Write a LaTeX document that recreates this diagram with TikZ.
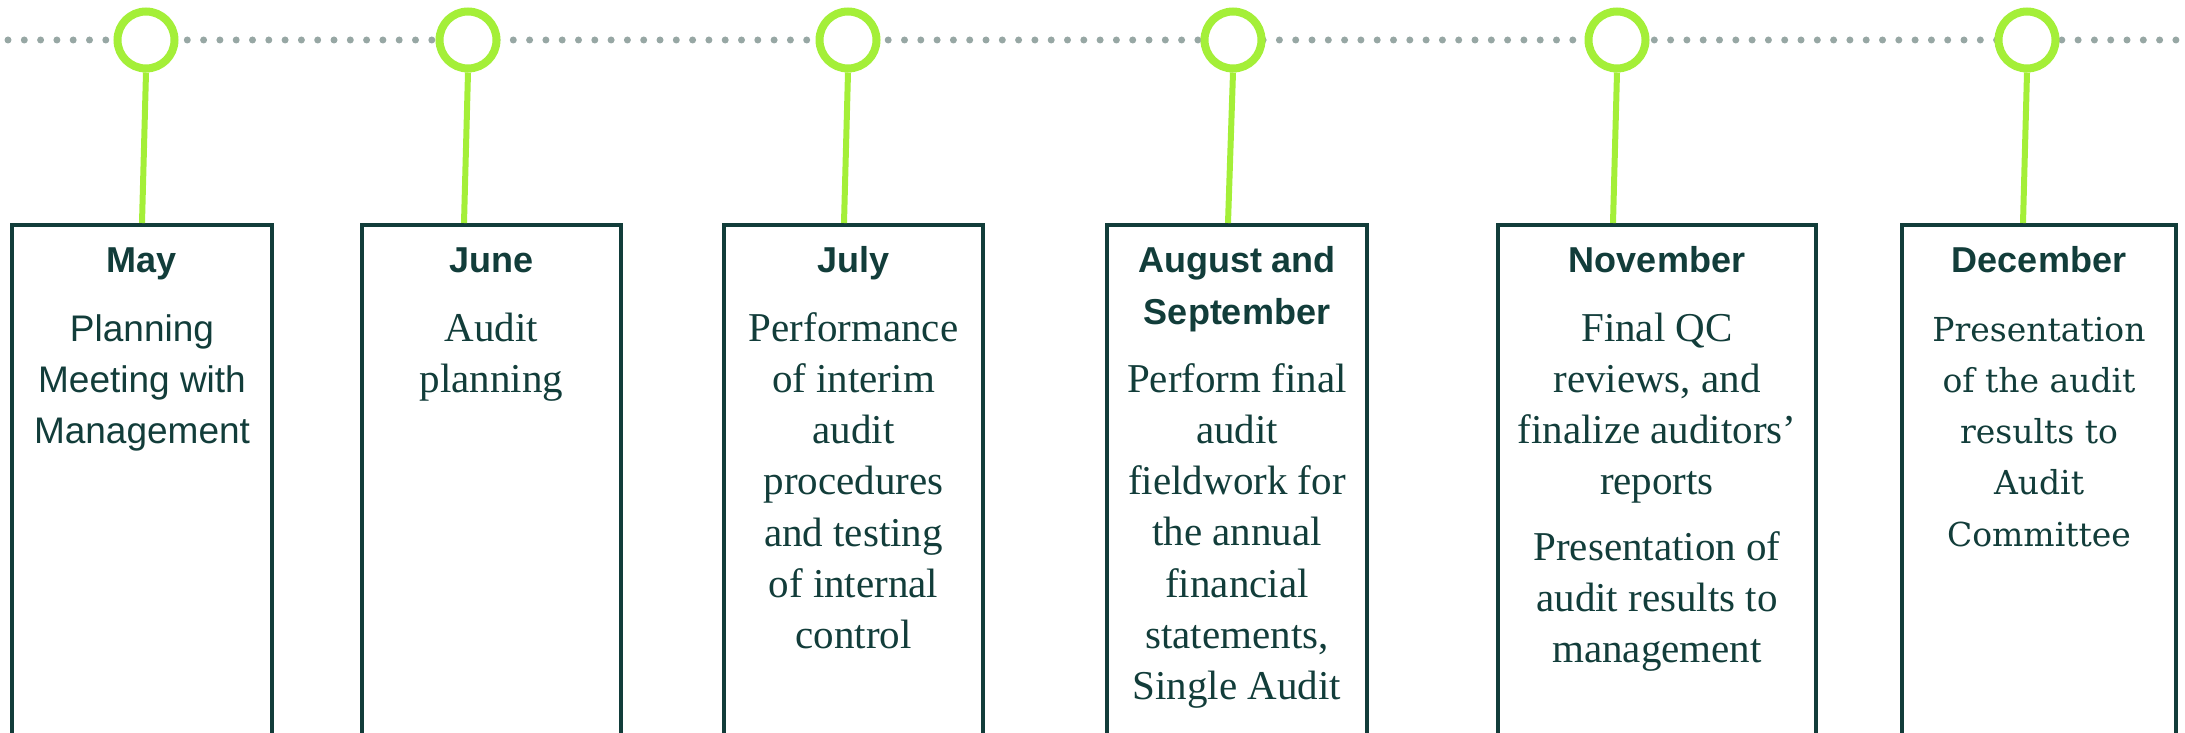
\documentclass[tikz,border=0pt]{standalone}
\usepackage{fontspec}
\setmainfont{Liberation Serif}
\setsansfont{Liberation Sans}
\newfontfamily\wideserif{DejaVu Serif}
\definecolor{tlInk}{HTML}{123D3A}
\definecolor{tlLime}{HTML}{A4EF38}
\definecolor{tlGray}{HTML}{97A7A4}
\tikzset{
  every picture/.style={text=tlInk},
  tl dots/.style={draw=tlGray, line width=7pt, line cap=round,
    dash pattern=on 0pt off 16.3pt},
  tl ring/.style={circle, draw=tlLime, line width=8pt, fill=white,
    minimum size=57pt, inner sep=0pt},
  tl stem/.style={draw=tlLime, line width=6pt},
  tl box/.style={draw=tlInk, line width=4pt, fill=white, anchor=north,
    minimum height=560pt, inner sep=0pt},
  tl head/.style={font=\sffamily\bfseries\fontsize{36}{52}\selectfont,
    align=center, anchor=north, inner sep=0pt},
  tl body/.style={font=\fontsize{41}{51.2}\selectfont,
    align=center, anchor=north, inner sep=0pt}
}

\begin{document}
\begin{tikzpicture}[x=1pt,y=-1pt]
  \useasboundingbox (0,0) rectangle (2185,733);
  \clip (0,0) rectangle (2185,733);
  % dotted time axis
  \coordinate (axis w) at (8,40);
  \coordinate (axis e) at (2190,40);
  \draw[tl dots] (axis w) -- (axis e);
  % month markers
  \node[tl ring] (may ring) at (146,40) {};
  \node[tl ring] (jun ring) at (468,40) {};
  \node[tl ring] (jul ring) at (848,40) {};
  \node[tl ring] (aug ring) at (1233,40) {};
  \node[tl ring] (nov ring) at (1617,40) {};
  \node[tl ring] (dec ring) at (2027,40) {};
  % boxes
  \node[tl box, minimum width=260pt] (may) at (142,223) {};
  \node[tl box, minimum width=259pt] (jun) at (491.5,223) {};
  \node[tl box, minimum width=259pt] (jul) at (853.5,223) {};
  \node[tl box, minimum width=260pt] (aug) at (1237,223) {};
  \node[tl box, minimum width=318pt] (nov) at (1657,223) {};
  \node[tl box, minimum width=274pt] (dec) at (2039,223) {};
  % stems
  \draw[tl stem] (may ring.south) -- ([xshift=-4pt]may ring.south |- may.north);
  \draw[tl stem] (jun ring.south) -- ([xshift=-4pt]jun ring.south |- jun.north);
  \draw[tl stem] (jul ring.south) -- ([xshift=-4pt]jul ring.south |- jul.north);
  \draw[tl stem] (aug ring.south) -- ([xshift=-5pt]aug ring.south |- aug.north);
  \draw[tl stem] (nov ring.south) -- ([xshift=-4pt]nov ring.south |- nov.north);
  \draw[tl stem] (dec ring.south) -- ([xshift=-4pt]dec ring.south |- dec.north);
  % month titles; the strut fixes the first baseline 49pt below the box top
  \node[tl head] (may head) at ([yshift=-12.6pt]may.north) {\strut May};
  \node[tl head] (jun head) at ([yshift=-12.6pt]jun.north) {\strut June};
  \node[tl head] (jul head) at ([yshift=-12.6pt]jul.north) {\strut July};
  \node[tl head] (aug head) at ([yshift=-12.6pt]aug.north) {\strut August and\\September};
  \node[tl head] (nov head) at ([yshift=-12.6pt]nov.north) {\strut November};
  \node[tl head] (dec head) at ([yshift=-12.6pt]dec.north) {\strut December};
  % tasks; first baseline 118pt below the box top (169pt under two-line title)
  \node[tl body, font=\sffamily\fontsize{37}{51.2}\selectfont] (may text)
    at ([yshift=-82.2pt]may.north) {\strut Planning\\Meeting with\\Management};
  \node[tl body] (jun text) at ([yshift=-82.2pt]jun.north) {\strut Audit\\planning};
  \node[tl body] (jul text) at ([yshift=-82.2pt]jul.north)
    {\strut Performance\\of interim\\audit\\procedures\\and testing\\of internal\\control};
  \node[tl body] (aug text) at ([yshift=-133.2pt]aug.north)
    {\strut Perform final\\audit\\fieldwork for\\the annual\\financial\\statements,\\Single Audit};
  \node[tl body] (nov text) at ([yshift=-82.2pt]nov.north)
    {\strut Final QC\\reviews, and\\finalize auditors’\\reports\\[14pt]Presentation of\\audit results to\\management};
  \node[tl body, font=\wideserif\fontsize{33}{51.2}\selectfont] (dec text)
    at ([yshift=-82.2pt]dec.north) {\strut Presentation\\of the audit\\results to\\Audit\\Committee};
\end{tikzpicture}
\end{document}
